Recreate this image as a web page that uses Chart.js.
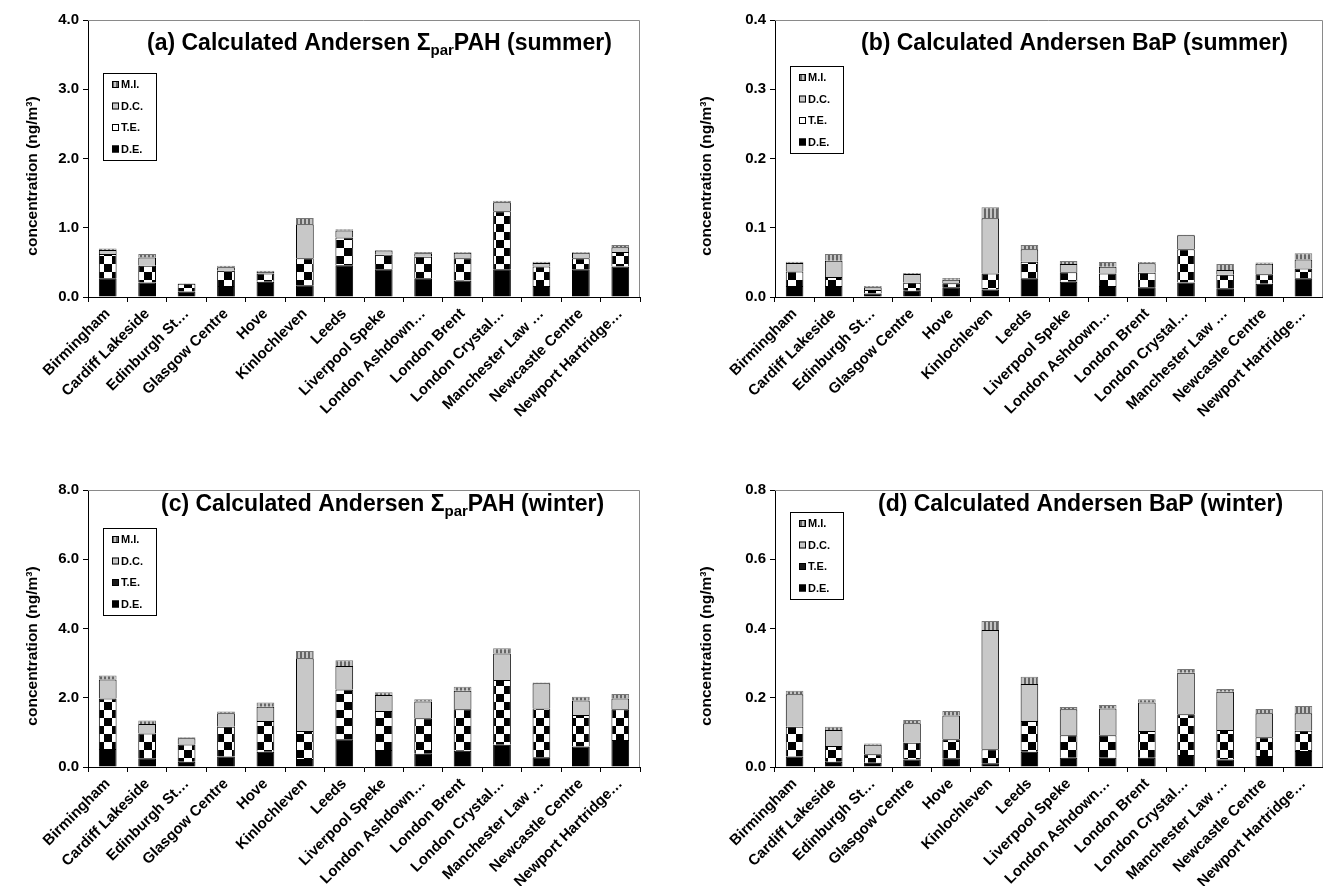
<!DOCTYPE html>
<html>
<head>
<meta charset="utf-8">
<script src="https://cdn.jsdelivr.net/npm/chart.js@4.4.1/dist/chart.umd.min.js"></script>
<style>
  body { margin: 0; background: #fff; }
  .panel { position: absolute; }
</style>
</head>
<body>
<div class="panel" style="left:0;top:0"><canvas id="pahSummer" width="660" height="443"></canvas></div>
<div class="panel" style="left:660px;top:0"><canvas id="bapSummer" width="663" height="443"></canvas></div>
<div class="panel" style="left:0;top:470px"><canvas id="pahWinter" width="660" height="416"></canvas></div>
<div class="panel" style="left:660px;top:470px"><canvas id="bapWinter" width="663" height="416"></canvas></div>
<script>
// sites on the x axis
const sites = ['Birmingham', 'Cardiff Lakeside', 'Edinburgh St\u2026', 'Glasgow Centre', 'Hove', 'Kinlochleven', 'Leeds',
  'Liverpool Speke', 'London Ashdown\u2026', 'London Brent', 'London Crystal\u2026', 'Manchester Law \u2026',
  'Newcastle Centre', 'Newport Hartridge\u2026'];
const sources = ['D.E.', 'T.E.', 'D.C.', 'M.I.'];

// (a) sum PAH summer
const pahSumDE = [0.27, 0.21, 0.08, 0.16, 0.22, 0.17, 0.46, 0.40, 0.27, 0.24, 0.40, 0.16, 0.40, 0.44];
const pahSumTE = [0.35, 0.24, 0.11, 0.22, 0.12, 0.39, 0.40, 0.21, 0.31, 0.32, 0.84, 0.28, 0.16, 0.21];
const pahSumDC = [0.06, 0.12, 0.005, 0.05, 0.02, 0.49, 0.10, 0.06, 0.05, 0.08, 0.13, 0.05, 0.08, 0.07];
const pahSumMI = [0.02, 0.05, 0.005, 0.02, 0.02, 0.09, 0.02, 0.01, 0.02, 0.01, 0.02, 0.02, 0.01, 0.03];

// (b) BaP summer
const bapSumDE = [0.016, 0.016, 0.005, 0.009, 0.014, 0.011, 0.027, 0.022, 0.016, 0.014, 0.021, 0.0125, 0.019, 0.027];
const bapSumTE = [0.021, 0.013, 0.005, 0.0117, 0.006, 0.023, 0.024, 0.0136, 0.018, 0.021, 0.048, 0.0195, 0.014, 0.014];
const bapSumDC = [0.012, 0.0235, 0.004, 0.0125, 0.005, 0.0796, 0.018, 0.012, 0.0098, 0.0137, 0.020, 0.007, 0.015, 0.013];
const bapSumMI = [0.002, 0.0095, 0.002, 0.0015, 0.0025, 0.016, 0.006, 0.0045, 0.0067, 0.002, 0.001, 0.0087, 0.002, 0.009];

// (c) sum PAH winter
const pahWinDE = [0.52, 0.25, 0.15, 0.30, 0.44, 0.23, 0.80, 0.49, 0.38, 0.47, 0.64, 0.28, 0.59, 0.78];
const pahWinTE = [1.46, 0.72, 0.50, 0.86, 0.89, 0.81, 1.44, 1.13, 1.03, 1.20, 1.87, 1.41, 0.91, 0.89];
const pahWinDC = [0.55, 0.27, 0.18, 0.39, 0.41, 2.10, 0.68, 0.46, 0.48, 0.53, 0.77, 0.73, 0.42, 0.31];
const pahWinMI = [0.11, 0.10, 0.03, 0.05, 0.12, 0.21, 0.16, 0.08, 0.07, 0.12, 0.15, 0.02, 0.11, 0.13];

// (d) BaP winter
const bapWinDE = [0.030, 0.015, 0.012, 0.022, 0.025, 0.011, 0.044, 0.027, 0.027, 0.027, 0.035, 0.022, 0.032, 0.046];
const bapWinTE = [0.0865, 0.046, 0.025, 0.048, 0.055, 0.040, 0.089, 0.065, 0.065, 0.077, 0.117, 0.085, 0.054, 0.059];
const bapWinDC = [0.0935, 0.046, 0.027, 0.056, 0.069, 0.345, 0.107, 0.0746, 0.077, 0.082, 0.120, 0.1106, 0.069, 0.050];
const bapWinMI = [0.010, 0.0095, 0.004, 0.010, 0.013, 0.026, 0.021, 0.0064, 0.010, 0.010, 0.011, 0.0074, 0.0125, 0.021];

const FONT = 'Arial, "Liberation Sans", sans-serif';
const Y_TITLE = 'concentration (ng/m\u00b3)';
Chart.defaults.font.family = FONT;
Chart.defaults.font.weight = 'bold';
Chart.defaults.color = '#000';

// fill patterns
function makePattern(size, draw) {
  const c = document.createElement('canvas');
  c.width = size; c.height = size;
  const g = c.getContext('2d');
  draw(g);
  return g.createPattern(c, 'repeat');
}
const checker = makePattern(16, g => {
  g.fillStyle = '#fff'; g.fillRect(0, 0, 16, 16);
  g.fillStyle = '#000'; g.fillRect(0, 0, 8, 8); g.fillRect(8, 8, 8, 8);
});
const stripes = makePattern(4, g => {
  g.fillStyle = '#c4c4c4'; g.fillRect(0, 0, 4, 4);
  g.fillStyle = '#666'; g.fillRect(0, 0, 2, 4);
});
const DC_GREY = '#c8c8c8';

// title with subscript, y title, legend box, grey frame
const decor = {
  id: 'decor',
  afterDraw(chart, args, o) {
    const { ctx, chartArea: a } = chart;
    ctx.save();
    ctx.strokeStyle = '#8a8a8a';
    ctx.lineWidth = 1;
    ctx.beginPath();
    ctx.moveTo(a.left, a.top + 0.5);
    ctx.lineTo(a.right - 0.5, a.top + 0.5);
    ctx.lineTo(a.right - 0.5, a.bottom);
    ctx.stroke();

    // title
    let x = a.left + o.titleX;
    const base = a.top + o.titleY;
    ctx.fillStyle = '#000';
    ctx.textBaseline = 'alphabetic';
    ctx.textAlign = 'left';
    o.title.forEach(p => {
      ctx.font = 'bold ' + p.size + 'px ' + FONT;
      ctx.fillText(p.t, x, base + (p.dy || 0));
      x += ctx.measureText(p.t).width;
    });

    // y axis title, sits a little below the middle like the original
    ctx.save();
    ctx.translate(o.yTitleX, a.top + 156);
    ctx.rotate(-Math.PI / 2);
    ctx.font = 'bold 15.5px ' + FONT;
    ctx.textAlign = 'center';
    ctx.textBaseline = 'middle';
    ctx.fillText(Y_TITLE, 0, 0);
    ctx.restore();

    // legend
    const lx = a.left + o.legX, ly = a.top + o.legY;
    ctx.fillStyle = '#fff';
    ctx.fillRect(lx, ly, 53, 87);
    ctx.strokeStyle = '#000';
    ctx.strokeRect(lx + 0.5, ly + 0.5, 53, 87);
    ctx.font = 'bold 11px ' + FONT;
    ctx.textBaseline = 'middle';
    const sets = chart.data.datasets;
    for (let i = 0; i < 4; i++) {
      const ds = sets[3 - i];
      const cy = ly + 12 + i * 21.5;
      ctx.fillStyle = o.swatch[3 - i] || ds.backgroundColor;
      ctx.fillRect(lx + 9, cy - 4, 7, 7);
      ctx.strokeStyle = '#000';
      ctx.strokeRect(lx + 9.5, cy - 3.5, 6, 6);
      ctx.fillStyle = '#000';
      ctx.fillText(ds.label, lx + 18, cy);
    }
    ctx.restore();
  }
};

function buildChart(id, values, opts) {
  const fills = ['#000', checker, DC_GREY, stripes];
  new Chart(document.getElementById(id), {
    type: 'bar',
    data: {
      labels: sites,
      datasets: values.map((v, i) => ({
        label: sources[i],
        data: v,
        backgroundColor: fills[i],
        borderColor: i === 3 ? '#777' : '#000',
        borderWidth: 1,
        barPercentage: 0.45,
        categoryPercentage: 1
      }))
    },
    options: {
      responsive: false,
      animation: false,
      layout: { padding: { top: 20, right: opts.padRight, left: 0, bottom: 0 } },
      plugins: {
        legend: { display: false },
        tooltip: { enabled: false },
        decor: opts.decor
      },
      scales: {
        x: {
          stacked: true,
          afterFit: s => { s.height = opts.xHeight; },
          grid: { drawOnChartArea: false, color: '#000', tickLength: 5, offset: true },
          border: { color: '#000', width: 1 },
          ticks: { autoSkip: false, maxRotation: 45, minRotation: 45, padding: 3, font: { size: 15, weight: 'bold' } }
        },
        y: {
          stacked: true,
          min: 0,
          max: opts.max,
          afterFit: s => { s.width = opts.yWidth; },
          grid: { drawOnChartArea: false, color: '#000', tickLength: 5 },
          border: { color: '#000', width: 1 },
          ticks: { stepSize: opts.max / 4, padding: 4, font: { size: 15, weight: 'bold' }, callback: v => v.toFixed(1) }
        }
      }
    },
    plugins: [decor]
  });
}

const swatchSummer = ['#000', '#fff', DC_GREY, stripes];
const swatchWinter = ['#000', '#1a1a1a', DC_GREY, stripes];

buildChart('pahSummer', [pahSumDE, pahSumTE, pahSumDC, pahSumMI], {
  max: 4, yWidth: 88, xHeight: 146, padRight: 20,
  decor: { titleX: 59, titleY: 30, legX: 15, legY: 53, yTitleX: 33, swatch: swatchSummer,
    title: [{ t: '(a) Calculated Andersen \u03a3', size: 23 }, { t: 'par', size: 15, dy: 5 }, { t: 'PAH (summer)', size: 23 }] }
});
buildChart('bapSummer', [bapSumDE, bapSumTE, bapSumDC, bapSumMI], {
  max: 0.4, yWidth: 115, xHeight: 146, padRight: 0,
  decor: { titleX: 86, titleY: 30, legX: 15, legY: 46, yTitleX: 47, swatch: swatchSummer,
    title: [{ t: '(b) Calculated Andersen BaP (summer)', size: 23 }] }
});
buildChart('pahWinter', [pahWinDE, pahWinTE, pahWinDC, pahWinMI], {
  max: 8, yWidth: 88, xHeight: 119, padRight: 20,
  decor: { titleX: 73, titleY: 21, legX: 15, legY: 38, yTitleX: 33, swatch: swatchWinter,
    title: [{ t: '(c) Calculated Andersen \u03a3', size: 23 }, { t: 'par', size: 15, dy: 5 }, { t: 'PAH (winter)', size: 23 }] }
});
buildChart('bapWinter', [bapWinDE, bapWinTE, bapWinDC, bapWinMI], {
  max: 0.8, yWidth: 115, xHeight: 119, padRight: 0,
  decor: { titleX: 103, titleY: 21, legX: 15, legY: 22, yTitleX: 47, swatch: swatchWinter,
    title: [{ t: '(d) Calculated Andersen BaP (winter)', size: 23 }] }
});
</script>
</body>
</html>
